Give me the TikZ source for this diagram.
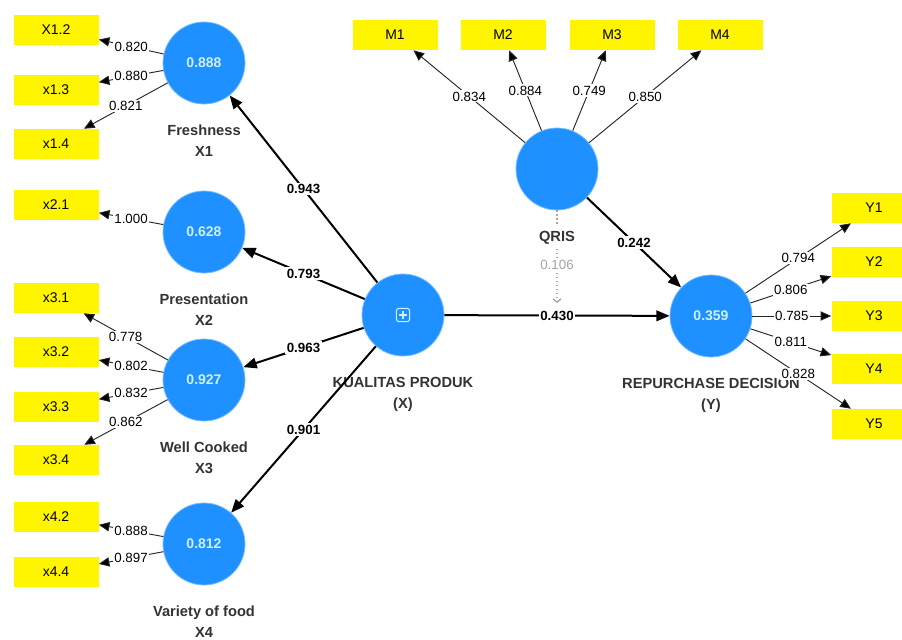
\documentclass[tikz,border=0pt]{standalone}
\usepackage{fontspec}
\setmainfont{Liberation Sans}
\usetikzlibrary{positioning}
\usetikzlibrary{arrows.meta}
\definecolor{plsblue}{RGB}{30,144,255}
\definecolor{plsedge}{RGB}{120,190,255}
\definecolor{plsvalue}{RGB}{205,240,255}
\definecolor{plsyellow}{RGB}{255,245,0}
\tikzset{latent/.style={%
        circle,
        minimum size=61.5pt,
        inner sep=0pt,
        draw=plsedge,
        line width=0.6pt,
        fill=plsblue,
        text=plsvalue,
        font=\fontsize{10.5}{12}\selectfont\bfseries
    },
    indicator/.style={%
        rectangle,
        minimum width=63.75pt,
        minimum height=22.5pt,
        inner sep=0pt,
        fill=plsyellow,
        font=\fontsize{10.5}{12}\selectfont
    },
    lvname/.style={align=center, text=black!80,
        font=\fontsize{11}{15.75}\selectfont\bfseries},
    loading/.style={draw=black!85, line width=0.7pt,
        -{Triangle[length=8pt,width=7pt]}},
    structural/.style={draw=black, line width=1.5pt,
        -{Triangle[length=10pt,width=8pt]}},
    weight/.style={fill=white, inner sep=1pt, font=\fontsize{10}{12}\selectfont},
    coef/.style={fill=white, inner sep=1pt, font=\fontsize{10}{12}\selectfont\bfseries},
    moderator/.style={draw=black!35, line width=1pt, dotted},
    modval/.style={fill=white, inner sep=1pt, text=black!35,
        font=\fontsize{10}{12}\selectfont},
    plusbox/.style={rectangle, rounded corners=2pt, minimum size=10pt,
        inner sep=0pt, draw=plsvalue, line width=0.8pt},
    iconline/.style={draw=plsvalue, line width=0.8pt,
        shorten >=2.5pt, shorten <=2.5pt}
}
\begin{document}
\begin{tikzpicture}[x=0.75pt,y=-0.75pt]
    \useasboundingbox (0,0) rectangle (902,639);
    \clip (0,0) rectangle (902,639);
    % latent variables
    \node [latent] (X1) at (204,63)  {0.888};
    \node [latent] (X2) at (204,232) {0.628};
    \node [latent] (X3) at (204,380) {0.927};
    \node [latent] (X4) at (204,544) {0.812};
    \node [latent] (X)  at (403,315) {};
    \node [latent] (Q)  at (557,169) {};
    \node [latent] (Y)  at (711,316) {0.359};
    \node [plusbox] (Xicon) at (X) {};
    \draw [iconline] (Xicon.north) -- (Xicon.south);
    \draw [iconline] (Xicon.west) -- (Xicon.east);
    \node [lvname] (X1name) [below=12pt of X1] {Freshness\\X1};
    \node [lvname] (X2name) [below=12pt of X2] {Presentation\\X2};
    \node [lvname] (X3name) [below=12pt of X3] {Well Cooked\\X3};
    \node [lvname] (X4name) [below=12pt of X4] {Variety of food\\X4};
    \node [lvname] (Xname)  [below=12pt of X]  {KUALITAS PRODUK\\(X)};
    \node [lvname] (Qname)  [below=12pt of Q]  {QRIS};
    \node [lvname] (Yname)  [below=12pt of Y]  {REPURCHASE DECISION\\(Y)};
    % indicators
    \node [indicator] (x12) at (56,30)  {X1.2};
    \node [indicator] (x13) at (56,90)  {x1.3};
    \node [indicator] (x14) at (56,144) {x1.4};
    \node [indicator] (x21) at (56,205) {x2.1};
    \node [indicator] (x31) at (56,298) {x3.1};
    \node [indicator] (x32) at (56,352) {x3.2};
    \node [indicator] (x33) at (56,407) {x3.3};
    \node [indicator] (x34) at (56,460) {x3.4};
    \node [indicator] (x42) at (56,517) {x4.2};
    \node [indicator] (x44) at (56,572) {x4.4};
    \node [indicator] (m1) at (395,35) {M1};
    \node [indicator] (m2) at (503,35) {M2};
    \node [indicator] (m3) at (612,35) {M3};
    \node [indicator] (m4) at (720,35) {M4};
    \node [indicator] (y1) at (874,208) {Y1};
    \node [indicator] (y2) at (874,262) {Y2};
    \node [indicator] (y3) at (874,316) {Y3};
    \node [indicator] (y4) at (874,369) {Y4};
    \node [indicator] (y5) at (874,424) {Y5};
    % outer loadings
    \path[loading] (X1) edge node[weight] {0.820} (x12);
    \path[loading] (X1) edge node[weight] {0.880} (x13);
    \path[loading] (X1) edge node[weight] {0.821} (x14);
    \path[loading] (X2) edge node[weight] {1.000} (x21);
    \path[loading] (X3) edge node[weight] {0.778} (x31);
    \path[loading] (X3) edge node[weight] {0.802} (x32);
    \path[loading] (X3) edge node[weight] {0.832} (x33);
    \path[loading] (X3) edge node[weight] {0.862} (x34);
    \path[loading] (X4) edge node[weight] {0.888} (x42);
    \path[loading] (X4) edge node[weight] {0.897} (x44);
    \path[loading] (Q) edge node[weight] {0.834} (m1);
    \path[loading] (Q) edge node[weight] {0.884} (m2);
    \path[loading] (Q) edge node[weight] {0.749} (m3);
    \path[loading] (Q) edge node[weight] {0.850} (m4);
    \path[loading] (Y) edge node[weight] {0.794} (y1);
    \path[loading] (Y) edge node[weight] {0.806} (y2);
    \path[loading] (Y) edge node[weight] {0.785} (y3);
    \path[loading] (Y) edge node[weight] {0.811} (y4);
    \path[loading] (Y) edge node[weight] {0.828} (y5);
    % inner model
    \path[structural] (X) edge node[coef] {0.943} (X1);
    \path[structural] (X) edge node[coef] {0.793} (X2);
    \path[structural] (X) edge node[coef] {0.963} (X3);
    \path[structural] (X) edge node[coef] {0.901} (X4);
    \path[structural] (X) edge node[coef] {0.430} (Y);
    \path[structural] (Q) edge node[coef] {0.242} (Y);
    % moderating effect
    \coordinate (mod) at (557,303);
    \draw[moderator] (Q) -- (Qname);
    \draw[moderator,-{Straight Barb[length=2.5pt,width=6pt]}] (Qname) -- node[modval,pos=0.3] {0.106} (mod);
\end{tikzpicture}
\end{document}
